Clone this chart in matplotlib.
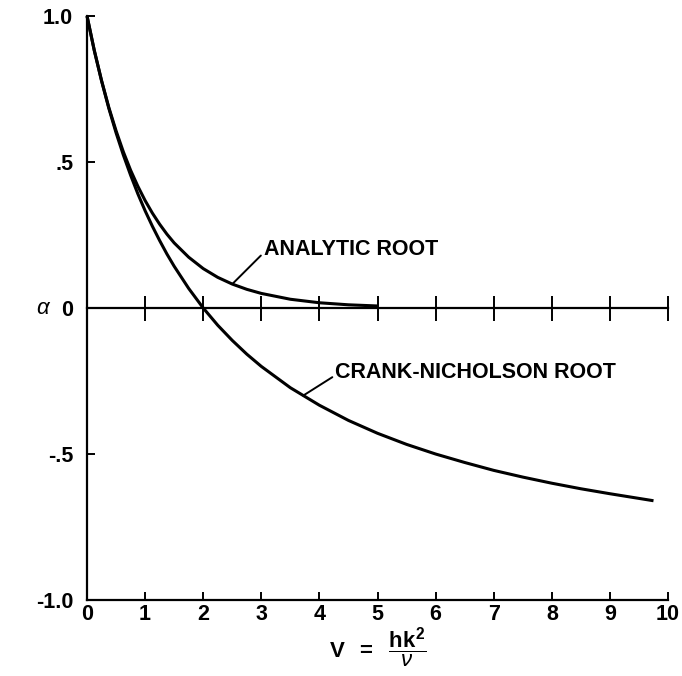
import matplotlib
matplotlib.use("Agg")
import matplotlib.pyplot as plt

# values
v_analytic = [0.0, 0.125, 0.25, 0.375, 0.5, 0.625, 0.75, 0.875, 1.0, 1.125, 1.25,
              1.375, 1.5, 1.75, 2.0, 2.25, 2.5, 2.75, 3.0, 3.5, 4.0, 4.5, 5.0]
a_analytic = [1.000, 0.882, 0.779, 0.687, 0.607, 0.535, 0.472, 0.417, 0.368, 0.325,
              0.287, 0.253, 0.223, 0.174, 0.135, 0.105, 0.082, 0.064, 0.050, 0.030,
              0.018, 0.011, 0.007]

v_crank = [0.0, 0.125, 0.25, 0.375, 0.5, 0.625, 0.75, 0.875, 1.0, 1.125, 1.25,
           1.375, 1.5, 1.75, 2.0, 2.25, 2.5, 2.75, 3.0, 3.5, 4.0, 4.5, 5.0, 5.5,
           6.0, 6.5, 7.0, 7.5, 8.0, 8.5, 9.0, 9.5, 9.75]
a_crank = [1.000, 0.882, 0.778, 0.684, 0.600, 0.524, 0.455, 0.391, 0.333, 0.280,
           0.231, 0.185, 0.143, 0.067, 0.000, -0.059, -0.111, -0.158, -0.200,
           -0.273, -0.333, -0.385, -0.429, -0.467, -0.500, -0.529, -0.556, -0.579,
           -0.600, -0.619, -0.636, -0.652, -0.660]

x_ticks = [0, 1, 2, 3, 4, 5, 6, 7, 8, 9, 10]
y_ticks = [1.0, 0.5, 0.0, -0.5, -1.0]
y_tick_labels = ["1.0", ".5", "0", "-.5", "-1.0"]

plt.rcParams["font.family"] = ["Liberation Sans", "DejaVu Sans"]
plt.rcParams["mathtext.fontset"] = "custom"
plt.rcParams["mathtext.rm"] = "Liberation Sans"
plt.rcParams["mathtext.bf"] = "Liberation Sans:bold"
plt.rcParams["mathtext.it"] = "Liberation Sans:italic"

fig = plt.figure(figsize=(6.82, 6.76), dpi=100)
ax = fig.add_axes([0.1276, 0.1124, 0.8519, 0.8639])

ax.plot(v_analytic, a_analytic, color="black", lw=2.2, solid_capstyle="butt", clip_on=False)
ax.plot(v_crank, a_crank, color="black", lw=2.2, solid_capstyle="butt", clip_on=False)

ax.set_xlim(0, 10)
ax.set_ylim(-1, 1)

for side in ["top", "right"]:
    ax.spines[side].set_visible(False)
for side in ["left", "bottom"]:
    ax.spines[side].set_linewidth(1.6)

ax.set_xticks(x_ticks)
ax.set_xticklabels([str(t) for t in x_ticks])
ax.set_yticks(y_ticks)
ax.set_yticklabels(y_tick_labels)
ax.tick_params(axis="both", direction="in", length=6, width=1.4,
               labelsize=15.5, pad=3)
ax.tick_params(axis="y", pad=10)
for lab in ax.get_xticklabels() + ax.get_yticklabels():
    lab.set_fontweight("bold")

# zero line with crossing ticks
zero = ax.secondary_xaxis(0.5)
zero.set_xticks(x_ticks)
zero.tick_params(direction="inout", length=18, width=1.4,
                 labeltop=False, labelbottom=False)
for sp in zero.spines.values():
    sp.set_linewidth(1.6)

# curve labels with leader lines
ax.annotate("ANALYTIC ROOT", xy=(2.5, 0.082), xytext=(3.04, 0.2),
            fontsize=15.5, fontweight="bold", va="center", ha="left",
            arrowprops=dict(arrowstyle="-", color="black", lw=1.4,
                            shrinkA=0, shrinkB=0, relpos=(0, 0.35)))
ax.annotate("CRANK-NICHOLSON ROOT", xy=(3.72, -0.30), xytext=(4.27, -0.22),
            fontsize=15.5, fontweight="bold", va="center", ha="left",
            arrowprops=dict(arrowstyle="-", color="black", lw=1.4,
                            shrinkA=0, shrinkB=0, relpos=(0, 0.35)))

ax.text(-0.062, 0.5, r"$\alpha$", transform=ax.transAxes, fontsize=16,
        ha="right", va="center")

ax.set_xlabel(r"$\mathbf{V}\ \ \mathbf{=}\ \ \dfrac{\mathbf{hk}^{\mathbf{2}}}{\nu}$",
              fontsize=16, labelpad=0)

fig.savefig("out.png", dpi=100)
